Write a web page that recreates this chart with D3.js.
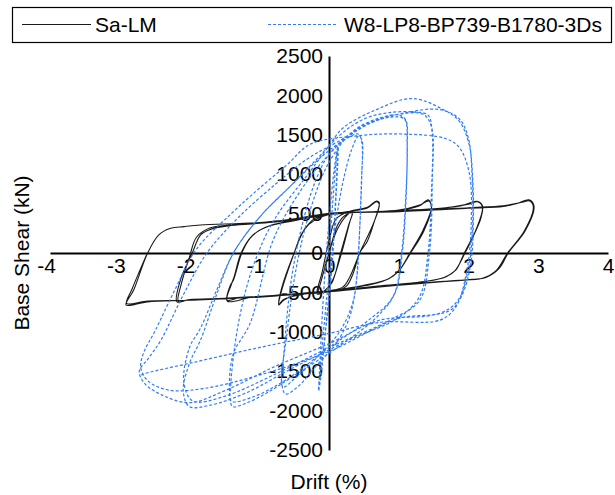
<!DOCTYPE html>
<html>
<head>
<meta charset="utf-8">
<script src="https://cdn.jsdelivr.net/npm/d3@7"></script>
<style>
  html, body { margin: 0; padding: 0; background: #fff; }
  svg { display: block; }
  text { font-family: "Liberation Sans", Arial, sans-serif; fill: #000; }
</style>
</head>
<body>
<svg id="chart" width="615" height="495"></svg>
<script>
// Axis ticks
const xTicks = [-4, -3, -2, -1, 0, 1, 2, 3, 4];
const yTicks = [-2500, -2000, -1500, -1000, -500, 0, 500, 1000, 1500, 2000, 2500];

// Series names
const seriesNames = ["Sa-LM", "W8-LP8-BP739-B1780-3Ds"];

// Sa-LM hysteresis history: [drift (%), base shear (kN)]
const saLM = [
  [0, 0], [0.12, 300], [0.26, 480], [0.34, 520], [0.3, 400], [0.18, 0], [0.05, -350], [-0.05, -470], [-0.16, -520],
  [-0.12, -380], [0.0, 0], [0.12, 350], [0.22, 470], [0.33, 510], [0.28, 350], [0.16, -20], [0.04, -380], [-0.08, -490], [-0.17, -520],
  // +/-0.7 %
  [-0.1, -250], [0.0, 150], [0.1, 430], [0.3, 530], [0.55, 580], [0.68, 660], [0.72, 640], [0.65, 400], [0.55, 150], [0.44, 0],
  [0.35, -250], [0.25, -420], [0.1, -480], [-0.2, -510], [-0.5, -540], [-0.65, -600], [-0.72, -660], [-0.68, -480], [-0.5, 0],
  [-0.4, 230], [-0.3, 360], [-0.2, 440], [0.0, 490], [0.3, 530], [0.55, 570], [0.68, 650], [0.72, 620], [0.64, 380], [0.44, 0],
  [0.3, -300], [0.2, -430], [0.0, -480], [-0.4, -530], [-0.65, -590], [-0.72, -650],
  // +/-1.45 %
  [-0.68, -450], [-0.5, 0], [-0.35, 300], [-0.2, 420], [0.0, 490], [0.5, 520], [1.0, 540], [1.3, 600], [1.42, 675], [1.47, 590],
  [1.35, 293], [1.16, 0], [1.01, -215], [0.87, -320], [0.6, -400], [0.0, -480], [-0.5, -520], [-1.0, -550], [-1.3, -570], [-1.46, -600],
  [-1.42, -420], [-1.37, -343], [-1.25, 0], [-1.13, 190], [-0.99, 290], [-0.8, 360], [-0.5, 420], [0.0, 490], [0.5, 520], [1.0, 545],
  [1.3, 610], [1.43, 660], [1.47, 580], [1.36, 280], [1.17, 0], [1.0, -230], [0.85, -330], [0.5, -410], [0.0, -480], [-0.6, -530],
  [-1.1, -560], [-1.46, -610],
  // +/-2.15 %
  [-1.4, -400], [-1.36, -300], [-1.26, 0], [-1.1, 220], [-0.9, 330], [-0.5, 410], [0.0, 490], [0.8, 530], [1.5, 560], [1.9, 600],
  [2.12, 655], [2.2, 600], [2.18, 450], [2.11, 293], [1.94, 0], [1.82, -215], [1.68, -300], [1.4, -360], [0.7, -420], [0.0, -480],
  [-0.8, -540], [-1.5, -575], [-2.0, -590], [-2.18, -620], [-2.13, -343], [-1.96, 0], [-1.84, 230], [-1.7, 300], [-1.4, 350],
  [-0.8, 390], [0.0, 490], [0.8, 530], [1.6, 565], [2.0, 620], [2.13, 650], [2.2, 580], [2.1, 280], [1.95, 0], [1.8, -230],
  [1.65, -310], [1.3, -370], [0.5, -440], [-0.5, -520], [-1.5, -580], [-2.05, -600], [-2.16, -610],
  // +/-2.9 %
  [-2.12, -400], [-2.0, -50], [-1.9, 200], [-1.7, 320], [-1.3, 360], [-0.6, 420], [0.0, 500], [1.0, 525], [2.0, 568], [2.5, 590],
  [2.7, 630], [2.87, 675], [2.94, 590], [2.82, 293], [2.57, 0], [2.44, -195], [2.25, -310], [2.06, -335], [1.5, -370], [1.0, -407],
  [0.0, -492], [-1.0, -560], [-2.0, -600], [-2.6, -620], [-2.91, -660], [-2.8, -470], [-2.6, 0], [-2.44, 230], [-2.27, 314],
  [-2.08, 335], [-1.84, 356], [-1.0, 385], [-0.41, 445], [0.0, 505], [1.0, 530], [2.0, 575], [2.5, 600], [2.75, 640], [2.88, 660],
  [2.93, 580], [2.8, 280], [2.56, 0], [2.4, -220], [2.2, -320], [1.8, -350], [1.0, -410], [0.0, -490], [-1.0, -555], [-2.0, -600],
  [-2.6, -610], [-2.9, -640], [-2.82, -450], [-2.62, -30]
];

// W8-LP8-BP739-B1780-3Ds hysteresis history: [drift (%), base shear (kN)]
const w8 = [
  [0, 0], [0.05, 600], [0.1, 1150], [0.12, 1300], [0.1, 800], [0.05, 0], [-0.02, -700], [-0.1, -1400], [-0.14, -1650],
  [-0.12, -1200], [-0.07, -400], [0.0, 400], [0.08, 1100], [0.13, 1350], [0.1, 700], [0.04, -200], [-0.05, -1000],
  [-0.12, -1600], [-0.15, -1750],
  // +0.45 / -0.66 %
  [-0.1, -1200], [0.0, -300], [0.1, 400], [0.2, 900], [0.32, 1300], [0.42, 1480], [0.47, 1440], [0.47, 1000], [0.44, 300],
  [0.4, -300], [0.3, -800], [0.1, -1150], [-0.2, -1450], [-0.45, -1700], [-0.62, -1790], [-0.67, -1700],
  [-0.64, -1200], [-0.55, -400], [-0.4, 300], [-0.2, 900], [0.0, 1250], [0.25, 1450], [0.42, 1510], [0.47, 1400], [0.46, 800],
  [0.42, 0], [0.35, -600], [0.15, -1000], [-0.2, -1350], [-0.5, -1600], [-0.66, -1700],
  // +1.1 / -1.41 %
  [-0.6, -1000], [-0.45, -100], [-0.25, 600], [0.0, 1150], [0.35, 1550], [0.75, 1720], [1.0, 1750], [1.1, 1690], [1.12, 1300],
  [1.1, 600], [1.05, 0], [0.95, -500], [0.7, -800], [0.2, -1150], [-0.4, -1500], [-0.9, -1780], [-1.2, -1910], [-1.38, -1950],
  [-1.42, -1850],
  [-1.38, -1300], [-1.13, -890], [-0.8, 165], [-0.4, 800], [0.0, 1250], [0.45, 1600], [0.85, 1720], [1.08, 1700], [1.12, 1400],
  [1.1, 700], [1.04, 0], [0.92, -550], [0.6, -830], [0.0, -1200], [-0.6, -1600], [-1.1, -1830], [-1.4, -1880],
  // +1.45 / -2.08 %
  [-1.41, -1700], [-1.3, -900], [-1.1, -200], [-0.8, 400], [-0.3, 1000], [0.1, 1450], [0.5, 1700], [0.85, 1780], [1.2, 1790],
  [1.42, 1750], [1.48, 1500], [1.47, 800], [1.42, 0], [1.3, -550], [1.0, -820], [0.3, -1100], [-0.5, -1450], [-1.2, -1780],
  [-1.7, -1930], [-2.0, -1950], [-2.09, -1750],
  [-2.0, -1400], [-1.84, -1100], [-1.6, -500], [-1.37, 0], [-1.0, 450], [-0.56, 843], [0.0, 1300], [0.6, 1650], [1.0, 1760],
  [1.35, 1760], [1.47, 1600], [1.48, 900], [1.44, 0], [1.3, -600], [0.9, -840], [0.0, -1200], [-0.8, -1550], [-1.5, -1820],
  [-1.95, -1880], [-2.08, -1650],
  // +2.05 / -2.7 %
  [-2.0, -1200], [-1.84, -950], [-1.6, -450], [-1.37, 0], [-1.0, 450], [-0.56, 843], [-0.03, 1332], [0.2, 1586], [0.68, 1820],
  [1.2, 1960], [1.68, 1800], [1.87, 1670], [2.01, 1374], [2.06, 950], [2.07, 400], [2.03, -150], [1.9, -550], [1.75, -720],
  [1.4, -800], [0.73, -852], [0.0, -1150], [-0.8, -1450], [-1.5, -1750], [-2.0, -1900], [-2.4, -1800], [-2.65, -1650], [-2.72, -1500],
  [-2.6, -1350], [-2.41, -1107], [-2.1, -550], [-1.75, 0], [-1.3, 450], [-0.75, 886], [-0.3, 1200], [0.1, 1400], [0.6, 1650],
  [1.1, 1780], [1.59, 1820], [1.87, 1700], [2.0, 1450], [2.05, 1000], [2.06, 400], [2.0, -200], [1.85, -600], [1.6, -760],
  [1.0, -830], [0.0, -1250], [-1.0, -1550], [-1.8, -1720], [-2.3, -1740], [-2.6, -1620], [-2.7, -1450],
  [-2.65, -1250], [-2.5, -1000], [-2.2, -450], [-1.9, 50], [-1.4, 500], [-1.0, 820], [-0.6, 1120], [-0.27, 1380], [0.44, 1490],
  [1.06, 1510], [1.68, 1450], [1.87, 1336], [2.01, 1020], [2.04, 400], [1.98, -200], [1.82, -683], [1.59, -852], [0.73, -880],
  [0.0, -1020], [-1.0, -1200], [-2.0, -1400], [-2.6, -1520], [-2.7, -1550]
];

const svg = d3.select("#chart");

const x = d3.scaleLinear().domain([-4, 4]).range([50, 608]);
const y = d3.scaleLinear().domain([-2500, 2500]).range([450, 56]);

// Axes crossing at the origin
const xAxis = svg.append("g")
  .attr("transform", `translate(0,${y(0)})`)
  .call(d3.axisBottom(x).tickValues(xTicks).tickSize(0).tickPadding(5.5).tickFormat(d3.format("d")));
xAxis.select(".domain").attr("stroke", "#000").attr("stroke-width", 2);
xAxis.selectAll(".tick text")
  .attr("font-size", 21)
  .attr("font-family", "Liberation Sans, Arial, sans-serif")
  .attr("dx", d => d < 0 ? -4 : 0)
  .text(d => d < 0 ? "-" + Math.abs(d) : d);

const yAxis = svg.append("g")
  .attr("transform", `translate(${x(0)},0)`)
  .call(d3.axisLeft(y).tickValues(yTicks).tickSize(0).tickPadding(6).tickFormat(d3.format("d")));
yAxis.select(".domain").attr("stroke", "#000").attr("stroke-width", 2);
yAxis.selectAll(".tick text")
  .attr("font-size", 21)
  .attr("font-family", "Liberation Sans, Arial, sans-serif")
  .text(d => d < 0 ? "-" + Math.abs(d) : d);

// Axis titles
svg.append("text")
  .attr("x", 329).attr("y", 489)
  .attr("text-anchor", "middle")
  .attr("font-size", 21)
  .text("Drift (%)");

svg.append("text")
  .attr("transform", "translate(29,253) rotate(-90)")
  .attr("text-anchor", "middle")
  .attr("font-size", 21)
  .text("Base Shear (kN)");

// Hysteresis curves
const line = d3.line()
  .x(d => x(d[0]))
  .y(d => y(d[1]))
  .curve(d3.curveCatmullRom.alpha(0.5));

svg.append("path")
  .datum(saLM)
  .attr("d", line)
  .attr("fill", "none")
  .attr("stroke", "#1a1a1a")
  .attr("stroke-width", 1.1);

svg.append("path")
  .datum(w8)
  .attr("d", line)
  .attr("fill", "none")
  .attr("stroke", "#2f7cf6")
  .attr("stroke-width", 1.2)
  .attr("stroke-dasharray", "3,2");

// Legend
const legend = svg.append("g");
legend.append("rect")
  .attr("x", 12.5).attr("y", 7.5)
  .attr("width", 599).attr("height", 35)
  .attr("fill", "#fff").attr("stroke", "#000").attr("stroke-width", 1.2);

legend.append("line")
  .attr("x1", 22).attr("x2", 91).attr("y1", 24.5).attr("y2", 24.5)
  .attr("stroke", "#1a1a1a").attr("stroke-width", 1.1);
legend.append("text")
  .attr("x", 95).attr("y", 32)
  .attr("font-size", 21)
  .text(seriesNames[0]);

legend.append("line")
  .attr("x1", 268).attr("x2", 338).attr("y1", 24.5).attr("y2", 24.5)
  .attr("stroke", "#2f7cf6").attr("stroke-width", 1.2).attr("stroke-dasharray", "3,2");
legend.append("text")
  .attr("x", 344).attr("y", 32)
  .attr("font-size", 21)
  .text(seriesNames[1]);
</script>
</body>
</html>
